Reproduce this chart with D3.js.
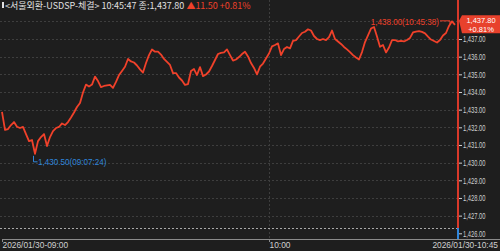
<!DOCTYPE html>
<html>
<head>
<meta charset="utf-8">
<script src="https://cdn.jsdelivr.net/npm/d3@7"></script>
<style>
  html, body { margin: 0; padding: 0; background: #1e1e1e; }
  svg { display: block; }
  text { font-family: "Liberation Sans", Arial, sans-serif; }
  .kr { font-family: "Noto Sans CJK KR", "DejaVu Sans", sans-serif; }
</style>
</head>
<body>
<div id="chart"></div>
<script>
var svgWidth = 500;
var svgHeight = 251;

// sampled trade prices, 09:00 -> 10:45:47
var prices = [
  1432.87, 1431.85, 1431.90, 1432.13, 1432.30, 1432.03, 1431.96, 1432.02, 1431.62, 1431.22,
  1431.28, 1430.50, 1431.22, 1431.45, 1431.62, 1430.94, 1431.45, 1431.79, 1431.96, 1432.02,
  1432.22, 1432.13, 1432.30, 1432.56, 1432.84, 1433.15, 1433.38, 1433.97, 1434.42, 1434.31,
  1434.42, 1434.87, 1434.62, 1434.28, 1434.34, 1434.37, 1434.40, 1434.23, 1434.57, 1434.96,
  1435.19, 1435.43, 1435.87, 1435.73, 1435.67, 1435.50, 1435.28, 1435.10, 1435.64, 1436.09,
  1436.41, 1436.28, 1436.29, 1436.12, 1435.87, 1435.70, 1435.53, 1435.07, 1435.07, 1434.82,
  1434.65, 1434.40, 1434.45, 1435.19, 1435.30, 1434.96, 1435.41, 1434.90, 1434.99, 1435.16,
  1435.47, 1435.81, 1436.15, 1436.21, 1436.24, 1436.41, 1436.09, 1435.78, 1435.84, 1435.98,
  1436.15, 1436.28, 1436.01, 1435.64, 1435.36, 1435.00, 1435.43, 1435.61, 1435.90, 1436.18,
  1436.58, 1436.66, 1436.75, 1436.09, 1436.43, 1436.55, 1436.47, 1436.89, 1436.94, 1437.14,
  1437.34, 1437.41, 1437.55, 1437.48, 1437.17, 1437.00, 1436.94, 1437.00, 1436.94, 1437.11,
  1437.48, 1437.00, 1436.86, 1436.72, 1436.55, 1436.41, 1436.26, 1436.09, 1435.95, 1435.84,
  1436.26, 1436.83, 1437.20, 1437.59, 1437.68, 1437.14, 1436.56, 1436.66, 1436.24, 1436.52,
  1436.94, 1436.94, 1436.86, 1436.90, 1436.86, 1436.94, 1437.06, 1437.37, 1437.42, 1437.45,
  1437.40, 1437.32, 1437.14, 1436.97, 1436.89, 1436.80, 1436.94, 1437.20, 1437.34, 1437.74,
  1438.00, 1437.80
];

var xTicks = [
  { i: 0, label: "2026/01/30-09:00" },
  { i: 89, label: "10:00" }
];
var xEndLabel = "2026/01/30-10:45";

var yTicks = [1426, 1427, 1428, 1429, 1430, 1431, 1432, 1433, 1434, 1435, 1436, 1437];
var yGrid = [1427, 1428, 1429, 1430, 1431, 1432, 1433, 1434, 1435, 1436, 1437, 1438];

var prevClose = 1426.30;
var lastPrice = 1437.80;
var change = 11.50;
var changePct = "+0.81%";
var headerTitle = "<서울외환-USDSP-체결>";
var headerTime = "10:45:47";
var minLabel = "1,430.50(09:07:24)";
var maxLabel = "1,438.00(10:45:38)";

var upColor = "#f0412a";
var downColor = "#2f86dc";
var textColor = "#d0d0d0";

var svg = d3.select("#chart")
  .append("svg")
  .attr("width", svgWidth)
  .attr("height", svgHeight);

svg.append("rect")
  .attr("width", svgWidth)
  .attr("height", svgHeight)
  .attr("fill", "#1e1e1e");

var axisX = 458;
var baseY = 239;

var xScale = d3.scaleLinear()
  .domain([0, prices.length - 1])
  .range([2, 455]);

var yScale = d3.scaleLinear()
  .domain([1426, 1437])
  .range([233.3, 39]);

// narrow the glyphs horizontally, keeping the anchor point in place
function condense(sel, k) {
  sel.each(function() {
    var t = d3.select(this);
    var x = +t.attr("x") || 0;
    t.attr("x", x / k).attr("transform", `scale(${k},1)`);
  });
}

// grid
svg.append("g").selectAll("line")
  .data(yGrid)
  .enter()
  .append("line")
  .attr("x1", 0)
  .attr("x2", axisX)
  .attr("y1", d => Math.round(yScale(d)) + 0.5)
  .attr("y2", d => Math.round(yScale(d)) + 0.5)
  .attr("stroke", "#3e3e3e")
  .attr("stroke-dasharray", "2,2");

svg.append("g").selectAll("line")
  .data(xTicks.slice(1))
  .enter()
  .append("line")
  .attr("x1", d => Math.round(xScale(d.i)) + 0.5)
  .attr("x2", d => Math.round(xScale(d.i)) + 0.5)
  .attr("y1", 0)
  .attr("y2", baseY)
  .attr("stroke", "#3e3e3e")
  .attr("stroke-dasharray", "2,2");

// previous close reference
svg.append("line")
  .attr("x1", 0)
  .attr("x2", axisX)
  .attr("y1", Math.round(yScale(prevClose)) + 0.5)
  .attr("y2", Math.round(yScale(prevClose)) + 0.5)
  .attr("stroke", "#a8a8a8")
  .attr("stroke-dasharray", "2,2");

// price line
var line = d3.line()
  .x((d, i) => xScale(i))
  .y(d => yScale(d));

svg.append("path")
  .datum(prices)
  .attr("d", line)
  .attr("fill", "none")
  .attr("stroke", upColor)
  .attr("stroke-width", 1.8)
  .attr("stroke-linejoin", "round");

// right axis bar: red above previous close, blue below
svg.append("line")
  .attr("x1", axisX).attr("x2", axisX)
  .attr("y1", 0).attr("y2", yScale(prevClose))
  .attr("stroke", "#d8392a")
  .attr("stroke-width", 2);

svg.append("line")
  .attr("x1", axisX).attr("x2", axisX)
  .attr("y1", yScale(prevClose)).attr("y2", baseY)
  .attr("stroke", downColor)
  .attr("stroke-width", 2);

var yAxis = d3.axisRight(yScale)
  .tickValues(yTicks)
  .tickFormat(d3.format(",.2f"))
  .tickSize(3)
  .tickPadding(1);

var yAxisG = svg.append("g")
  .attr("transform", `translate(${axisX + 1}, 0)`)
  .call(yAxis);
yAxisG.select(".domain").remove();
yAxisG.selectAll(".tick line").attr("stroke", textColor);
yAxisG.selectAll(".tick text")
  .attr("fill", textColor)
  .attr("font-size", "9px")
  .attr("font-family", "'Liberation Sans', Arial, sans-serif")
  .call(condense, 0.64);

// x axis
svg.append("line")
  .attr("x1", 2).attr("x2", svgWidth)
  .attr("y1", baseY + 0.5).attr("y2", baseY + 0.5)
  .attr("stroke", "#8a8a8a");

var xTickG = svg.append("g").selectAll("g")
  .data(xTicks)
  .enter()
  .append("g")
  .attr("transform", d => `translate(${Math.round(xScale(d.i)) + 0.5}, ${baseY})`);

xTickG.append("line")
  .attr("y1", 0).attr("y2", 3)
  .attr("stroke", "#8a8a8a");

xTickG.append("text")
  .attr("x", 0)
  .attr("y", 9.5)
  .attr("fill", textColor)
  .attr("font-size", "9px")
  .text(d => d.label)
  .call(condense, 0.93);

svg.append("text")
  .attr("x", 498)
  .attr("y", baseY + 9.5)
  .attr("text-anchor", "end")
  .attr("fill", textColor)
  .attr("font-size", "9px")
  .text(xEndLabel)
  .call(condense, 0.93);

// min / max markers
var minIdx = d3.minIndex(prices);
var maxIdx = d3.maxIndex(prices);
var minX = xScale(minIdx), minY = yScale(prices[minIdx]);
var maxX = xScale(maxIdx), maxY = yScale(prices[maxIdx]);

svg.append("path")
  .attr("d", `M${minX - 1.5},${minY + 2}V${minY + 8}H${minX + 2.5}`)
  .attr("fill", "none")
  .attr("stroke", downColor);

svg.append("text")
  .attr("x", minX + 3)
  .attr("y", minY + 11)
  .attr("fill", downColor)
  .attr("font-size", "9px")
  .text(minLabel)
  .call(condense, 0.9);

svg.append("path")
  .attr("d", `M${maxX - 12},${maxY - 0.5}H${maxX - 2}V${maxY + 3}`)
  .attr("fill", "none")
  .attr("stroke", upColor);

svg.append("text")
  .attr("x", maxX - 13)
  .attr("y", maxY + 3.5)
  .attr("text-anchor", "end")
  .attr("fill", upColor)
  .attr("font-size", "9px")
  .text(maxLabel)
  .call(condense, 0.9);

// current price tag
var lastY = yScale(lastPrice);
svg.append("path")
  .attr("d", `M${axisX + 1},${lastY - 4}L${axisX + 4},${lastY - 9.5}H${svgWidth}V${lastY + 8.5}H${axisX + 4}Z`)
  .attr("fill", "#e8412c");

svg.append("text")
  .attr("x", 481)
  .attr("y", lastY - 2)
  .attr("fill", "#ffffff")
  .attr("font-size", "7.5px")
  .attr("text-anchor", "middle")
  .text(d3.format(",.2f")(lastPrice))
  .call(condense, 1);

svg.append("text")
  .attr("x", 481)
  .attr("y", lastY + 7)
  .attr("fill", "#ffffff")
  .attr("font-size", "7.5px")
  .attr("text-anchor", "middle")
  .text(changePct)
  .call(condense, 1);

// header
svg.append("rect")
  .attr("x", 2).attr("y", 2)
  .attr("width", 2).attr("height", 6)
  .attr("fill", "#e0e0e0");

var header = svg.append("text")
  .attr("class", "kr")
  .attr("x", 5)
  .attr("y", 8.5)
  .attr("font-size", "9px")
  .attr("fill", "#e0e0e0");
header.append("tspan").text(headerTitle + " " + headerTime + " 종:" + d3.format(",.2f")(lastPrice) + " ");
header.append("tspan").attr("fill", upColor).text("▲" + d3.format(".2f")(change) + " " + changePct);
</script>
</body>
</html>
